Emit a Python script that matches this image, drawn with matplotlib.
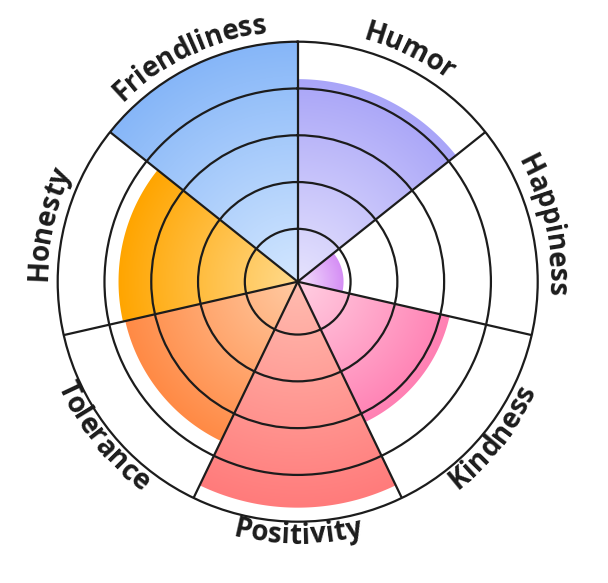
import numpy as np
import matplotlib
matplotlib.use("Agg")
import matplotlib.pyplot as plt
from matplotlib.colors import to_rgb
from matplotlib.font_manager import FontProperties

# sectors, clockwise from 12 o'clock
categories = ["Humor", "Happiness", "Kindness", "Positivity", "Tolerance", "Honesty", "Friendliness"]
values = [84, 17, 64, 94, 73, 74, 100]
ring_ticks = [20, 40, 60, 80]
outer_colors = ["#A9A5F8", "#D58EF5", "#FF80B3", "#FF7B7B", "#FF8A45", "#FFA500", "#86B6F8"]
inner_colors = ["#E6E3FD", "#F4E2FC", "#FFCFE2", "#FFBCB0", "#FFCAA2", "#FFDA8C", "#D3E7FF"]

W, H, DPI = 608, 583, 100
CX, CY, R = 297.7, H - 281.7, 240.0
R_MIN = -2.6
INK = "#1c1c1c"


def curved_label(bg, text, mid_deg, r_base, outward, fp):
    renderer = bg.figure.canvas.get_renderer()

    def width(s):
        if not s:
            return 0.0
        t = bg.text(0, 0, s, fontproperties=fp)
        w = t.get_window_extent(renderer).width
        t.remove()
        return w

    total = width(text)
    r_arc = r_base + (7 if outward else -7)
    for k, ch in enumerate(text):
        c = (width(text[:k]) + width(text[:k + 1])) / 2
        delta = np.degrees((c - total / 2) / r_arc)
        phi = mid_deg + delta if outward else mid_deg - delta
        rad = np.radians(phi)
        x = CX + r_base * np.sin(rad)
        y = CY + r_base * np.cos(rad)
        rot = -phi if outward else 180 - phi
        bg.text(x, y, ch, fontproperties=fp, color=INK, ha="center", va="baseline",
                rotation=rot, rotation_mode="anchor", zorder=5)


def main():
    fig = plt.figure(figsize=(W / DPI, H / DPI), dpi=DPI)
    fig.patch.set_facecolor("white")

    bg = fig.add_axes([0, 0, 1, 1], zorder=0)
    bg.set_xlim(0, W)
    bg.set_ylim(0, H)
    bg.axis("off")

    ax = fig.add_axes([(CX - R) / W, (CY - R) / H, 2 * R / W, 2 * R / H],
                      projection="polar", zorder=1)
    ax.set_facecolor("none")
    ax.set_theta_zero_location("N")
    ax.set_theta_direction(-1)
    ax.set_ylim(R_MIN, 100)

    n = len(categories)
    step = 2 * np.pi / n
    theta = np.arange(n) * step + step / 2
    bars = ax.bar(theta, np.array(values) - R_MIN, width=step, bottom=R_MIN,
                  color="none", edgecolor="none")

    ax.set_rgrids(ring_ticks, labels=[""] * len(ring_ticks))
    ax.set_thetagrids(np.degrees(np.arange(n) * step), labels=[""] * n)
    ax.grid(True, color=INK, lw=1.6)
    ax.tick_params(length=0)
    ax.spines["polar"].set_color(INK)
    ax.spines["polar"].set_linewidth(1.6)

    # radial gradient fills, clipped to the bar outlines
    yy, xx = np.mgrid[0:H, 0:W] + 0.5
    dist = np.hypot(xx - CX, yy - CY)
    for bar, v, c_in, c_out in zip(bars, values, inner_colors, outer_colors):
        r_edge = (v - R_MIN) / (100 - R_MIN) * R
        t = np.clip(dist / r_edge, 0, 1)[..., None]
        rgb = np.array(to_rgb(c_in)) + (np.array(to_rgb(c_out)) - np.array(to_rgb(c_in))) * t
        img = bg.imshow(rgb, extent=(0, W, 0, H), origin="lower", aspect="auto",
                        interpolation="bilinear", zorder=1)
        outline = bar.get_patch_transform().transform_path(bar.get_path()).interpolated(150)
        img.set_clip_path(outline, ax.transData)
    bg.set_xlim(0, W)
    bg.set_ylim(0, H)

    fp = FontProperties(family=["Open Sans", "DejaVu Sans"], weight="bold", size=20)
    for i, name in enumerate(categories):
        mid = np.degrees(theta[i])
        outward = not (90 < mid < 270)
        r_base = 251 if outward else 262
        curved_label(bg, name, mid, r_base, outward, fp)

    fig.savefig("out.png", dpi=DPI, facecolor="white")
    plt.close(fig)


if __name__ == "__main__":
    main()
